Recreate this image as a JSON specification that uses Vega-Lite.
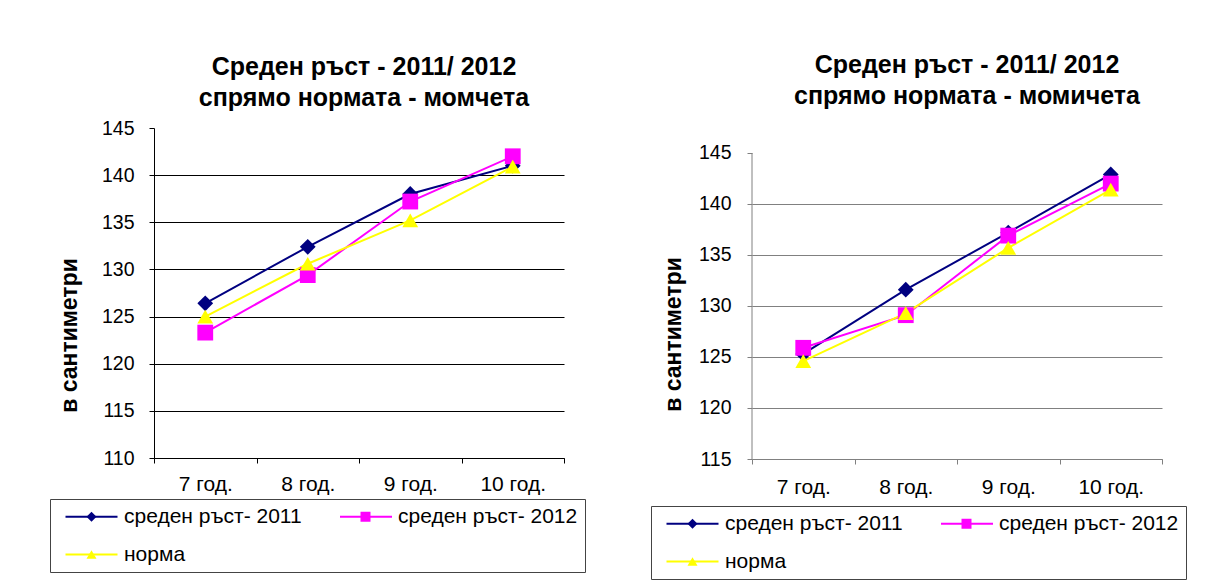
{
  "$schema": "https://vega.github.io/schema/vega-lite/v6.json",
  "background": "white",
  "padding": {"left": 49, "top": 53, "right": 0, "bottom": 0},
  "config": {"font": "Liberation Sans", "view": {"stroke": null}},
  "spacing": 64,
  "datasets": {
    "boys": [
      {"age": "7 год.", "series": "среден ръст- 2011", "value": 126.4},
      {"age": "8 год.", "series": "среден ръст- 2011", "value": 132.4},
      {"age": "9 год.", "series": "среден ръст- 2011", "value": 138.0},
      {"age": "10 год.", "series": "среден ръст- 2011", "value": 141.0},
      {"age": "7 год.", "series": "среден ръст- 2012", "value": 123.3},
      {"age": "8 год.", "series": "среден ръст- 2012", "value": 129.4},
      {"age": "9 год.", "series": "среден ръст- 2012", "value": 137.2},
      {"age": "10 год.", "series": "среден ръст- 2012", "value": 142.0},
      {"age": "7 год.", "series": "норма", "value": 125.0},
      {"age": "8 год.", "series": "норма", "value": 130.6},
      {"age": "9 год.", "series": "норма", "value": 135.2},
      {"age": "10 год.", "series": "норма", "value": 140.9}
    ],
    "girls": [
      {"age": "7 год.", "series": "среден ръст- 2011", "value": 125.3},
      {"age": "8 год.", "series": "среден ръст- 2011", "value": 131.6},
      {"age": "9 год.", "series": "среден ръст- 2011", "value": 137.2},
      {"age": "10 год.", "series": "среден ръст- 2011", "value": 142.9},
      {"age": "7 год.", "series": "среден ръст- 2012", "value": 125.9},
      {"age": "8 год.", "series": "среден ръст- 2012", "value": 129.1},
      {"age": "9 год.", "series": "среден ръст- 2012", "value": 136.9},
      {"age": "10 год.", "series": "среден ръст- 2012", "value": 142.0},
      {"age": "7 год.", "series": "норма", "value": 124.6},
      {"age": "8 год.", "series": "норма", "value": 129.3},
      {"age": "9 год.", "series": "норма", "value": 135.7},
      {"age": "10 год.", "series": "норма", "value": 141.4}
    ],
    "axisline": [{"age": "7 год.", "low": 115, "high": 145}]
  },
  "resolve": {"scale": {"color": "independent", "shape": "independent", "stroke": "independent"}, "legend": {"color": "independent", "shape": "independent", "stroke": "independent"}},
  "hconcat": [
    {
      "data": {"name": "boys"},
      "width": 410,
      "height": 330,
      "title": {"text": ["Среден ръст - 2011/ 2012", "спрямо нормата - момчета"], "font": "Liberation Sans", "fontSize": 25, "fontWeight": "bold", "lineHeight": 31, "offset": 7, "dx": 5, "color": "black", "anchor": "middle"},
      "encoding": {
        "x": {"field": "age", "type": "ordinal", "sort": ["7 год.", "8 год.", "9 год.", "10 год."],
          "scale": {"type": "band", "paddingInner": 0, "paddingOuter": 0},
          "axis": {"title": null, "labelAngle": 0, "labelFont": "Liberation Sans", "labelFontSize": 21, "labelColor": "black", "labelPadding": 10, "tickSize": 5, "tickColor": "black", "domainColor": "black", "tickBand": "extent", "grid": false}},
        "y": {"field": "value", "type": "quantitative",
          "scale": {"domain": [110, 145], "nice": false, "zero": false},
          "axis": {"title": "в сантиметри", "titleFont": "Liberation Sans", "titleFontSize": 23, "titleFontWeight": "bold", "titleColor": "black", "titlePadding": 20, "titleY": 207,
            "values": [110, 115, 120, 125, 130, 135, 140, 145], "labelFont": "Liberation Sans", "labelFontSize": 19.5, "labelColor": "black", "labelPadding": 15, "tickSize": 5, "tickColor": "black", "domainColor": "black",
            "grid": true, "gridColor": "black", "gridOpacity": {"condition": {"test": "datum.value >= 145", "value": 0}, "value": 1}}}
      },
      "layer": [
        {"mark": {"type": "line", "strokeWidth": 2},
          "encoding": {"stroke": {"field": "series", "type": "nominal", "sort": ["среден ръст- 2011", "среден ръст- 2012", "норма"],
            "scale": {"range": ["#000080", "#FF00FF", "#FFFF00"]},
            "legend": {"orient": "none", "legendX": -104, "legendY": 371, "title": null, "direction": "horizontal", "columns": 2, "columnPadding": 207.5, "rowPadding": 16, "padding": 7, "strokeColor": null,
              "labelFont": "Liberation Sans", "labelFontSize": 21, "labelExpr": "' '", "labelLimit": 300, "symbolSize": 100, "symbolOffset": 24, "labelOffset": 22, "symbolStrokeWidth": 2, "symbolType": "M-5.2,0L5.2,0", "symbolOpacity": 1}}}},
        {"mark": {"type": "point", "filled": true, "opacity": 1, "size": 250},
          "encoding": {
            "color": {"field": "series", "type": "nominal",
              "scale": {"domain": ["среден ръст- 2011", "среден ръст- 2012", "норма"], "range": ["#000080", "#FF00FF", "#FFFF00"]},
              "legend": {"orient": "none", "legendX": -104, "legendY": 371, "title": null, "direction": "horizontal", "columns": 2, "columnPadding": 29, "rowPadding": 16, "padding": 7, "strokeColor": "#444444",
                "labelFont": "Liberation Sans", "labelFontSize": 21, "labelColor": "black", "labelLimit": 300, "symbolSize": 100, "symbolOffset": 24, "labelOffset": 22, "symbolStrokeWidth": 2, "symbolOpacity": 1}},
            "shape": {"field": "series", "type": "nominal", "scale": {"domain": ["среден ръст- 2011", "среден ръст- 2012", "норма"], "range": ["diamond", "square", "triangle-up"]}, "legend": null}}}
      ]
    },
    {
      "data": {"name": "girls"},
      "width": 410,
      "height": 331,
      "title": {"text": ["Среден ръст - 2011/ 2012", "спрямо нормата - момичета"], "font": "Liberation Sans", "fontSize": 25, "fontWeight": "bold", "lineHeight": 31, "offset": 19, "dx": 10, "color": "black", "anchor": "middle"},
      "encoding": {
        "x": {"field": "age", "type": "ordinal", "sort": ["7 год.", "8 год.", "9 год.", "10 год."],
          "scale": {"type": "band", "paddingInner": 0, "paddingOuter": 0},
          "axis": {"title": null, "labelAngle": 0, "labelFont": "Liberation Sans", "labelFontSize": 21, "labelColor": "black", "labelPadding": 12, "tickSize": 5, "tickColor": "#808080", "domainColor": "#808080", "tickBand": "extent", "grid": false}},
        "y": {"field": "value", "type": "quantitative",
          "scale": {"domain": [115, 147.45], "nice": false, "zero": false},
          "axis": {"title": "в сантиметри", "titleFont": "Liberation Sans", "titleFontSize": 23, "titleFontWeight": "bold", "titleColor": "black", "titlePadding": 13, "titleY": 206,
            "values": [115, 120, 125, 130, 135, 140, 145], "labelFont": "Liberation Sans", "labelFontSize": 19.5, "labelColor": "black", "labelPadding": 16, "tickSize": 5, "tickColor": "#808080", "domain": false,
            "grid": true, "gridColor": "#808080", "gridOpacity": {"condition": {"test": "datum.value >= 145", "value": 0}, "value": 1}}}
      },
      "layer": [
        {"data": {"name": "axisline"},
          "mark": {"type": "rule", "color": "#808080", "strokeWidth": 1},
          "encoding": {"x": {"field": "age", "type": "ordinal", "bandPosition": 0}, "y": {"field": "low", "type": "quantitative"}, "y2": {"field": "high"}}},
        {"mark": {"type": "line", "strokeWidth": 2},
          "encoding": {"stroke": {"field": "series", "type": "nominal", "sort": ["среден ръст- 2011", "среден ръст- 2012", "норма"],
            "scale": {"range": ["#000080", "#FF00FF", "#FFFF00"]},
            "legend": {"orient": "none", "legendX": -101, "legendY": 378, "title": null, "direction": "horizontal", "columns": 2, "columnPadding": 207.5, "rowPadding": 16, "padding": 7, "strokeColor": null,
              "labelFont": "Liberation Sans", "labelFontSize": 21, "labelExpr": "' '", "labelLimit": 300, "symbolSize": 100, "symbolOffset": 24, "labelOffset": 22, "symbolStrokeWidth": 2, "symbolType": "M-5.2,0L5.2,0", "symbolOpacity": 1}}}},
        {"mark": {"type": "point", "filled": true, "opacity": 1, "size": 250},
          "encoding": {
            "color": {"field": "series", "type": "nominal",
              "scale": {"domain": ["среден ръст- 2011", "среден ръст- 2012", "норма"], "range": ["#000080", "#FF00FF", "#FFFF00"]},
              "legend": {"orient": "none", "legendX": -101, "legendY": 378, "title": null, "direction": "horizontal", "columns": 2, "columnPadding": 29, "rowPadding": 16, "padding": 7, "strokeColor": "#444444",
                "labelFont": "Liberation Sans", "labelFontSize": 21, "labelColor": "black", "labelLimit": 300, "symbolSize": 100, "symbolOffset": 24, "labelOffset": 22, "symbolStrokeWidth": 2, "symbolOpacity": 1}},
            "shape": {"field": "series", "type": "nominal", "scale": {"domain": ["среден ръст- 2011", "среден ръст- 2012", "норма"], "range": ["diamond", "square", "triangle-up"]}, "legend": null}}}
      ]
    }
  ]
}
